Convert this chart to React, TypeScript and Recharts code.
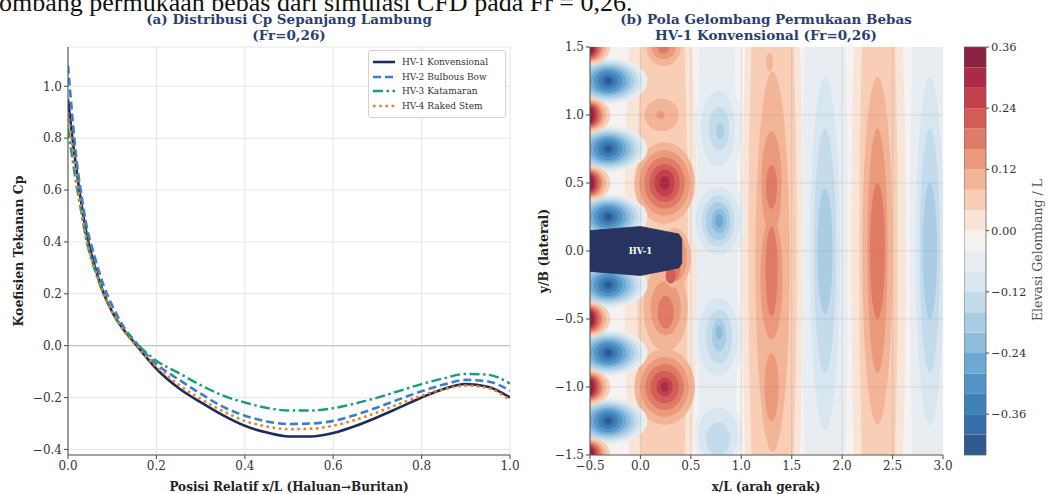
import React from 'react';
import {
  LineChart, Line, XAxis, YAxis, CartesianGrid, ReferenceLine, Legend,
  ScatterChart, Scatter, ReferenceArea,
} from 'recharts';

const SERIF = "'DejaVu Serif', serif";

// ---------- Panel (a): Cp distribution ----------
const xPos = [0, 0.01, 0.02, 0.03, 0.04, 0.06, 0.08, 0.1, 0.125, 0.15, 0.2, 0.25, 0.3, 0.35, 0.4, 0.45, 0.5, 0.55, 0.6, 0.65, 0.7, 0.75, 0.8, 0.85, 0.9, 0.95, 1.0];
const hv1 = [0.95, 0.80, 0.67, 0.55, 0.45, 0.31, 0.205, 0.13, 0.063, 0.012, -0.089, -0.163, -0.218, -0.268, -0.309, -0.335, -0.35, -0.35, -0.337, -0.31, -0.276, -0.238, -0.2, -0.167, -0.148, -0.158, -0.2];
const hv2 = [1.08, 0.88, 0.705, 0.585, 0.48, 0.345, 0.235, 0.155, 0.075, 0.02, -0.071, -0.13, -0.185, -0.235, -0.27, -0.292, -0.302, -0.3, -0.29, -0.267, -0.238, -0.206, -0.176, -0.15, -0.132, -0.138, -0.174];
const hv3 = [0.84, 0.72, 0.61, 0.515, 0.42, 0.295, 0.2, 0.13, 0.065, 0.018, -0.058, -0.105, -0.152, -0.192, -0.219, -0.24, -0.25, -0.25, -0.241, -0.223, -0.2, -0.174, -0.148, -0.126, -0.109, -0.112, -0.146];
const hv4 = [0.9, 0.77, 0.64, 0.525, 0.425, 0.3, 0.205, 0.13, 0.06, 0.008, -0.081, -0.15, -0.205, -0.252, -0.29, -0.312, -0.322, -0.32, -0.309, -0.286, -0.257, -0.224, -0.193, -0.168, -0.154, -0.163, -0.21];
const seriesNames = ['HV-1 Konvensional', 'HV-2 Bulbous Bow', 'HV-3 Katamaran', 'HV-4 Raked Stem'];
const leftXTicks = [0, 0.2, 0.4, 0.6, 0.8, 1.0];
const leftYTicks = [-0.4, -0.2, 0, 0.2, 0.4, 0.6, 0.8, 1.0];

const cpData = xPos.map((x, i) => ({ x, hv1: hv1[i], hv2: hv2[i], hv3: hv3[i], hv4: hv4[i] }));

const seriesStyle = [
  { key: 'hv1', color: '#1f2b5b', dash: undefined as string | undefined, width: 2.6 },
  { key: 'hv2', color: '#3b7ed0', dash: '8 4', width: 2.6 },
  { key: 'hv3', color: '#189c7a', dash: '10 3.5 2.5 3.5', width: 2.4 },
  { key: 'hv4', color: '#f07f22', dash: '2.6 3.6', width: 2.6 },
];

// ---------- Panel (b): wave pattern ----------
const rightXTicks = [-0.5, 0, 0.5, 1, 1.5, 2, 2.5, 3];
const rightYTicks = [-1.5, -1, -0.5, 0, 0.5, 1, 1.5];
const cbTicks = [-0.36, -0.24, -0.12, 0, 0.12, 0.24, 0.36];
// lower bound of each colour band of the filled contour
const bandLevels = [-0.44, -0.40, -0.36, -0.32, -0.28, -0.24, -0.20, -0.16, -0.12, -0.08, -0.04, 0.00, 0.04, 0.08, 0.12, 0.16, 0.20, 0.24, 0.28, 0.32];
const bandColors = ['#2f5a8d', '#356ea8', '#3f81b9', '#5294c6', '#6da9d2', '#8cbedc', '#aacde4', '#c3dbea', '#d8e6ef', '#e8edf2', '#f6f2f1', '#f9e4d8', '#f8ceb7', '#f3b597', '#eb9a7c', '#df7b66', '#d25e57', '#c2414c', '#ab2a45', '#8a2141'];

// contour regions: [x, y, halfWidth, halfHeight, band]
const waveColumns: number[][] = [
  [0.2, 0, 0.36, 3.0, 0.0],
  [0.22, 0, 0.25, 3.0, 0.04],
  [0.76, 0, 0.2, 3.0, -0.08],
  [1.31, 0, 0.3, 3.5, 0.0],
  [1.31, 0, 0.24, 3.0, 0.04],
  [1.31, -0.08, 0.17, 1.4, 0.08],
  [1.3, 0.5, 0.1, 0.38, 0.12],
  [1.3, -0.2, 0.11, 0.45, 0.12],
  [1.3, -1.0, 0.07, 0.25, 0.12],
  [1.3, 0.47, 0.055, 0.16, 0.16],
  [1.3, -0.15, 0.06, 0.33, 0.16],
  [1.28, 1.39, 0.035, 0.07, 0.08],
  [1.83, 0, 0.23, 3.2, -0.08],
  [1.83, -0.02, 0.15, 1.3, -0.12],
  [1.83, 0, 0.11, 0.9, -0.16],
  [1.83, 0, 0.075, 0.46, -0.20],
  [2.36, 0, 0.27, 3.5, 0.0],
  [2.36, 0, 0.19, 3.0, 0.04],
  [2.35, 0, 0.15, 1.28, 0.08],
  [2.35, 0, 0.1, 0.9, 0.12],
  [2.35, 0, 0.075, 0.5, 0.16],
  [2.87, 0, 0.2, 3.2, -0.08],
  [2.87, 0, 0.14, 1.28, -0.12],
  [2.87, 0, 0.1, 0.9, -0.16],
  [2.87, 0, 0.07, 0.5, -0.20],
];
const crestBlobs: number[][] = [
  [0.24, 0.5, 0.3, 0.3, 0.08], [0.24, 0.5, 0.25, 0.24, 0.12], [0.24, 0.5, 0.2, 0.19, 0.16],
  [0.24, 0.5, 0.15, 0.14, 0.20], [0.24, 0.5, 0.1, 0.1, 0.24], [0.24, 0.5, 0.05, 0.05, 0.28],
  [0.24, -1.0, 0.3, 0.28, 0.08], [0.24, -1.0, 0.24, 0.22, 0.12], [0.24, -1.0, 0.19, 0.17, 0.16],
  [0.24, -1.0, 0.14, 0.12, 0.20], [0.24, -1.0, 0.08, 0.07, 0.24], [0.24, -1.0, 0.04, 0.035, 0.28],
  [0.21, 1.0, 0.17, 0.12, 0.08], [0.2, 1.0, 0.04, 0.03, 0.12],
  [0.23, 1.5, 0.17, 0.14, 0.08], [0.23, 1.5, 0.12, 0.09, 0.12], [0.23, 1.5, 0.06, 0.05, 0.16],
  [0.25, -0.42, 0.22, 0.32, 0.08], [0.25, -0.42, 0.15, 0.2, 0.12], [0.25, -0.45, 0.08, 0.12, 0.16],
  [0.34, -0.05, 0.16, 0.22, 0.08], [0.35, -0.05, 0.11, 0.17, 0.12], [0.33, -0.1, 0.07, 0.12, 0.16],
  [0.3, -0.18, 0.05, 0.06, 0.20],
];
const troughBlobs: number[][] = [
  [0.77, 0.9, 0.24, 0.36, -0.08], [0.77, 0.9, 0.17, 0.28, -0.12], [0.78, 0.9, 0.1, 0.16, -0.16], [0.79, 0.88, 0.04, 0.06, -0.20],
  [0.77, 0.22, 0.27, 0.33, -0.08], [0.77, 0.22, 0.22, 0.25, -0.12], [0.77, 0.22, 0.16, 0.19, -0.16],
  [0.77, 0.22, 0.12, 0.14, -0.20], [0.78, 0.22, 0.075, 0.09, -0.24], [0.78, 0.22, 0.04, 0.05, -0.28],
  [0.77, -0.63, 0.25, 0.36, -0.08], [0.77, -0.63, 0.2, 0.29, -0.12], [0.78, -0.63, 0.13, 0.2, -0.16],
  [0.78, -0.62, 0.07, 0.12, -0.20], [0.78, -0.6, 0.035, 0.05, -0.24],
  [0.77, -1.35, 0.24, 0.26, -0.08], [0.77, -1.35, 0.2, 0.2, -0.12], [0.77, -1.38, 0.12, 0.12, -0.16],
];
const bowTroughX = -0.32;
const bowTroughY = [1.25, 0.75, 0.25, -0.25, -0.75, -1.25];
const bowTroughRings: number[][] = [
  [0.39, 0.17, -0.08], [0.34, 0.155, -0.12], [0.3, 0.14, -0.16], [0.26, 0.125, -0.2], [0.22, 0.11, -0.24],
  [0.18, 0.095, -0.28], [0.14, 0.08, -0.32], [0.1, 0.06, -0.36], [0.06, 0.04, -0.4], [0.03, 0.02, -0.44],
];
const bowCrestX = -0.5;
const bowCrestY = [1.5, 1.0, 0.5, 0.0, -0.5, -1.0, -1.5];
const bowCrestRings: number[][] = [
  [0.2, 0.13, 0.04], [0.16, 0.11, 0.08], [0.13, 0.1, 0.12], [0.11, 0.09, 0.16],
  [0.09, 0.08, 0.2], [0.07, 0.07, 0.24], [0.05, 0.06, 0.28], [0.03, 0.05, 0.32],
];
const hullX = [-0.5, 0.0, 0.38, 0.41, 0.41, 0.38, 0.0, -0.5];
const hullY = [0.15, 0.18, 0.125, 0.09, -0.09, -0.125, -0.18, -0.15];
const hullLabel = [{ x: 0, y: 0, text: 'HV-1' }];

const hullData = hullX.map((x, i) => ({ x, y: hullY[i] }));
const colorOf = (lvl: number) => bandColors[Math.round((lvl + 0.44) / 0.04)];

const fmt1 = (v: number) => v.toFixed(1).replace('-', '\u2212');
const fmt2 = (v: number) => v.toFixed(2).replace('-', '\u2212');

function ringAreas(rings: number[][], prefix: string) {
  return rings.map(([cx, cy, rx, ry, lvl], i) => {
    const fill = colorOf(lvl);
    return (
      <ReferenceArea
        key={prefix + i}
        x1={cx - rx}
        x2={cx + rx}
        y1={cy - ry}
        y2={cy + ry}
        ifOverflow="hidden"
        shape={(p: any) =>
          p && p.width != null ? (
            <ellipse
              cx={p.x + p.width / 2}
              cy={p.y + p.height / 2}
              rx={Math.abs(p.width) / 2}
              ry={Math.abs(p.height) / 2}
              fill={fill}
              stroke="none"
              clipPath={p.clipPath}
            />
          ) : <g />
        }
      />
    );
  });
}

const bowTroughs = bowTroughY.flatMap((y) => bowTroughRings.map(([rx, ry, l]) => [bowTroughX, y, rx, ry, l]));
const bowCrests = bowCrestY.flatMap((y) => bowCrestRings.map(([rx, ry, l]) => [bowCrestX, y, rx, ry, l]));

const tickStyle = { fontFamily: SERIF, fontSize: 12, fill: '#333' };
const axisStroke = { stroke: '#555', strokeWidth: 1.1 };

const LegendBox = () => (
  <div style={{ border: '1px solid #d2d2d2', borderRadius: 3, background: 'rgba(255,255,255,0.9)', padding: '4px 6px 4px 4px', fontFamily: SERIF, fontSize: 9, color: '#333' }}>
    {seriesStyle.map((s, i) => (
      <div key={s.key} style={{ display: 'flex', alignItems: 'center', height: 14.5 }}>
        <svg width={22} height={6} style={{ flex: 'none' }}>
          <line x1={0} y1={3} x2={22} y2={3} stroke={s.color} strokeWidth={s.width} strokeDasharray={s.dash} />
        </svg>
        <span style={{ marginLeft: 7, whiteSpace: 'nowrap' }}>{seriesNames[i]}</span>
      </div>
    ))}
  </div>
);

const abs = (o: React.CSSProperties): React.CSSProperties => ({ position: 'absolute', ...o });

export default function App() {
  return (
    <div style={abs({ left: 0, top: 0, width: 1048, height: 494, overflow: 'hidden', background: '#fff' })}>
      {/* caption fragment at the top */}
      <div style={abs({ left: -1, top: -10, fontFamily: "'Liberation Serif', serif", fontSize: 26, lineHeight: '26px', whiteSpace: 'nowrap', color: '#111' })}>
        ombang permukaan bebas dari simulasi CFD pada Fr = 0,26.
      </div>

      {/* Panel (a) */}
      <div style={abs({ left: 0, top: 0 })}>
        <LineChart width={530} height={494} data={cpData} margin={{ top: 47, right: 20, bottom: 9, left: 0 }}>
          <CartesianGrid stroke="#e6e6e6" strokeWidth={1} />
          <ReferenceLine y={0} stroke="#c4c4c4" strokeWidth={1.2} />
          {seriesStyle.map((s) => (
            <Line key={s.key} type="monotone" dataKey={s.key} stroke={s.color} strokeWidth={s.width}
              strokeDasharray={s.dash} dot={false} activeDot={false} isAnimationActive={false} />
          ))}
          <XAxis type="number" dataKey="x" domain={[0, 1]} ticks={leftXTicks} allowDataOverflow height={30}
            tickFormatter={fmt1} tick={tickStyle} axisLine={axisStroke} tickLine={axisStroke} tickSize={4} />
          <YAxis type="number" domain={[-0.4215, 1.1515]} ticks={leftYTicks} allowDataOverflow width={68}
            tickFormatter={fmt1} tick={tickStyle} axisLine={axisStroke} tickLine={axisStroke} tickSize={4} />
          <Legend layout="vertical" verticalAlign="middle" align="center" content={() => <LegendBox />}
            wrapperStyle={{ left: 368, top: 50, width: 138 }} />
        </LineChart>
      </div>
      <div style={abs({ left: 89, width: 400, top: 11, textAlign: 'center', fontFamily: SERIF, fontWeight: 'bold', fontSize: 13.5, lineHeight: '16px', color: '#2c3e70' })}>
        (a) Distribusi Cp Sepanjang Lambung<br />(Fr=0,26)
      </div>
      <div style={abs({ left: 89, width: 400, top: 480, textAlign: 'center', fontFamily: SERIF, fontWeight: 'bold', fontSize: 12, lineHeight: '14px', color: '#222' })}>
        Posisi Relatif x/L (Haluan→Buritan)
      </div>
      <div style={abs({ left: 18, top: 251, transform: 'translate(-50%,-50%) rotate(-90deg)', whiteSpace: 'nowrap', fontFamily: SERIF, fontWeight: 'bold', fontSize: 12.5, color: '#222' })}>
        Koefisien Tekanan Cp
      </div>

      {/* Panel (b) */}
      <div style={abs({ left: 520, top: 0 })}>
        <ScatterChart width={440} height={494} margin={{ top: 47, right: 17, bottom: 9, left: 0 }}>
          <ReferenceArea x1={-0.5} x2={3} y1={-1.5} y2={1.5} fill={colorOf(-0.04)} fillOpacity={1} stroke="none" />
          {ringAreas(waveColumns, 'wc')}
          {ringAreas(crestBlobs, 'cb')}
          {ringAreas(troughBlobs, 'tb')}
          {ringAreas(bowTroughs, 'bt')}
          {ringAreas(bowCrests, 'bc')}
          {rightXTicks.slice(1, -1).map((x) => (
            <ReferenceLine key={'gx' + x} x={x} stroke="#7a7a7a" strokeOpacity={0.18} />
          ))}
          {rightYTicks.slice(1, -1).map((y) => (
            <ReferenceLine key={'gy' + y} y={y} stroke="#7a7a7a" strokeOpacity={0.18} />
          ))}
          <Scatter data={hullData} isAnimationActive={false} fill="#26345f"
            shape={() => <g />}
            line={(p: any) => (
              <polygon points={(p.points || []).map((q: any) => `${q.x},${q.y}`).join(' ')} fill="#26345f" stroke="#26345f" strokeWidth={0.8} />
            )} />
          <Scatter data={hullLabel} isAnimationActive={false}
            shape={(p: any) => (
              <text x={p.cx} y={p.cy} textAnchor="middle" dominantBaseline="central" fill="#fff" fontFamily={SERIF} fontWeight="bold" fontSize={8.5}>
                {p.payload?.text}
              </text>
            )} />
          <XAxis type="number" dataKey="x" domain={[-0.5, 3]} ticks={rightXTicks} allowDataOverflow height={30}
            tickFormatter={fmt1} tick={tickStyle} axisLine={axisStroke} tickLine={axisStroke} tickSize={4} />
          <YAxis type="number" dataKey="y" domain={[-1.5, 1.5]} ticks={rightYTicks} allowDataOverflow width={70}
            tickFormatter={fmt1} tick={tickStyle} axisLine={axisStroke} tickLine={axisStroke} tickSize={4} />
        </ScatterChart>
      </div>
      <div style={abs({ left: 566, width: 400, top: 11, textAlign: 'center', fontFamily: SERIF, fontWeight: 'bold', fontSize: 13.5, lineHeight: '16px', color: '#2c3e70' })}>
        (b) Pola Gelombang Permukaan Bebas<br />HV-1 Konvensional (Fr=0,26)
      </div>
      <div style={abs({ left: 566, width: 400, top: 480, textAlign: 'center', fontFamily: SERIF, fontWeight: 'bold', fontSize: 12, lineHeight: '14px', color: '#222' })}>
        x/L (arah gerak)
      </div>
      <div style={abs({ left: 543, top: 251, transform: 'translate(-50%,-50%) rotate(-90deg)', whiteSpace: 'nowrap', fontFamily: SERIF, fontWeight: 'bold', fontSize: 12.5, color: '#222' })}>
        y/B (lateral)
      </div>

      {/* Colour bar */}
      <div style={abs({ left: 964, top: 0 })}>
        <ScatterChart width={84} height={494} margin={{ top: 47, right: 0, bottom: 39, left: 0 }}>
          {bandLevels.map((lvl, i) => (
            <ReferenceArea key={'band' + i} x1={0} x2={1} y1={lvl} y2={lvl + 0.04} fill={bandColors[i]} fillOpacity={1} stroke="none" ifOverflow="visible" />
          ))}
          <ReferenceArea x1={0} x2={1} y1={-0.44} y2={0.36} fill="none" fillOpacity={0} stroke="#666" strokeWidth={0.8} ifOverflow="visible" />
          <Scatter data={[{ x: 0, y: 0 }]} isAnimationActive={false} shape={() => <g />} />
          <XAxis type="number" dataKey="x" domain={[0, 1]} hide height={0} />
          <YAxis type="number" dataKey="y" orientation="right" domain={[-0.44, 0.36]} ticks={cbTicks} allowDataOverflow width={62}
            axisLine={false} tickLine={axisStroke} tickSize={3} tickFormatter={fmt2}
            tick={{ fontFamily: SERIF, fontSize: 11.5, fill: '#333' }} />
        </ScatterChart>
      </div>
      <div style={abs({ left: 1037, top: 250, transform: 'translate(-50%,-50%) rotate(-90deg)', whiteSpace: 'nowrap', fontFamily: SERIF, fontSize: 12.5, color: '#555' })}>
        Elevasi Gelombang / L
      </div>
    </div>
  );
}
